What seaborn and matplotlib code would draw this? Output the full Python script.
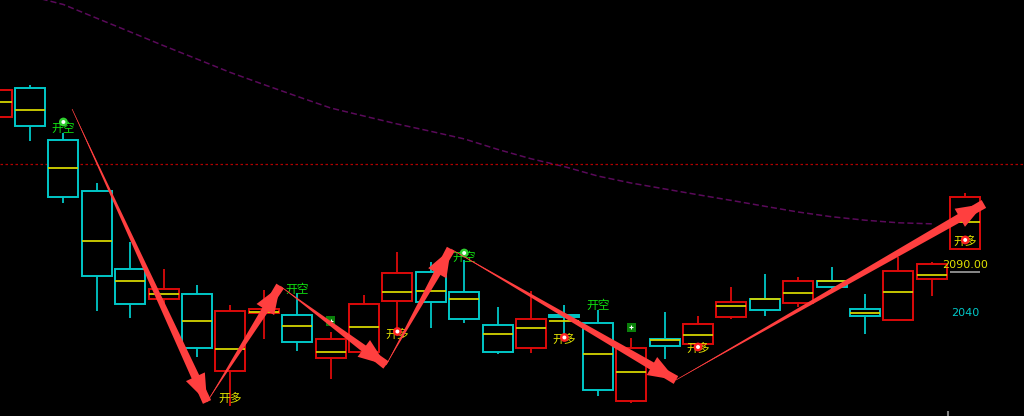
import numpy as np
import pandas as pd
import matplotlib
matplotlib.use("Agg")
import matplotlib.pyplot as plt
import seaborn as sns

# ==========================================
#   DATA
# ==========================================
opens = [2244.5, 2274.4, 2220.2, 2167.1, 2086.1, 2055.2, 2059.8, 1979.6, 2040.0, 2037.9,
         1993.1, 1999.4, 2053.1, 2083.0, 2061.9, 2027.8, 2004.2, 2038.2, 2029.9, 1949.0,
         2012.9, 2008.0, 2036.5, 2054.6, 2051.0, 2074.0, 2044.2, 2032.7, 2075.4, 2107.3]
closes = [2272.6, 2235.1, 2161.5, 2078.5, 2050.0, 2065.0, 2004.2, 2042.4, 2044.2, 2010.1,
          2012.9, 2049.4, 2082.3, 2052.1, 2033.7, 2000.0, 2034.1, 2035.8, 1960.1, 2003.5,
          2005.9, 2028.9, 2051.5, 2043.8, 2074.0, 2067.7, 2037.5, 2084.1, 2091.0, 2160.8]
highs = [2272.6, 2277.8, 2227.8, 2175.4, 2114.6, 2085.8, 2069.5, 2048.6, 2063.8, 2060.8,
         2020.8, 2059.1, 2103.6, 2093.4, 2095.5, 2046.3, 2063.5, 2048.6, 2043.4, 2014.6,
         2041.4, 2037.2, 2067.7, 2081.3, 2078.1, 2087.9, 2059.8, 2098.3, 2093.4, 2165.0]
lows = [2244.5, 2219.8, 2155.2, 2042.7, 2035.4, 2048.6, 1994.8, 1943.4, 2013.0, 2001.0,
        1971.2, 1996.6, 2022.6, 2025.0, 2030.2, 1997.6, 1999.0, 2015.0, 1954.2, 1946.9,
        1992.7, 2006.0, 2034.4, 2037.5, 2046.9, 2060.8, 2018.1, 2032.7, 2058.0, 2107.3]
mids = [2260.1, 2251.5, 2191.0, 2115.6, 2074.0, 2059.8, 2032.0, 2003.1, 2041.0, 2026.8,
        1999.4, 2026.0, 2062.5, 2063.5, 2054.6, 2018.1, 2024.4, 2032.3, 1997.3, 1978.5,
        2012.2, 2017.4, 2047.3, 2054.6, 2061.5, 2073.3, 2040.0, 2062.5, 2079.9, 2134.8]
ma_line = [np.nan, 2370.5, 2361.7, 2347.4, 2333.2, 2318.8, 2304.9, 2290.9, 2278.3, 2266.0,
           2253.9, 2245.5, 2237.2, 2229.6, 2221.7, 2210.8, 2201.0, 2192.8, 2183.0, 2175.7,
           2169.6, 2163.5, 2157.6, 2151.5, 2145.5, 2140.6, 2137.0, 2134.3, 2133.2, np.nan]

# zigzag signal path (bar position, price)
zig_x = [2.26, 6.30, 8.49, 11.66, 13.60, 20.34, 29.56]
zig_y = [2252.8, 1947.6, 2068.4, 1986.1, 2107.0, 1970.5, 2153.9]

# signal labels
sig_x = [2, 7, 9, 12, 14, 17, 18, 21, 29]
sig_y = [2233.0, 1950.7, 2065.3, 2016.4, 2098.6, 2011.7, 2048.1, 2002.8, 2114.3]
sig_text = ["开空", "开多", "开空", "开多", "开空", "开多", "开空", "开多", "开多"]
dot_x = [2, 12, 14, 17, 21, 29]
dot_y = [2239.3, 2021.0, 2102.8, 2014.8, 2004.9, 2116.4]
dot_kind = ["short", "long", "short", "long", "long", "long"]
box_x = [10, 19]
box_y = [2032.0, 2025.4]

ref_level = 2195.5
last_price = 2090.0
axis_label = 2040

# ==========================================
#   STYLE
# ==========================================
sns.set_style("dark", {"axes.facecolor": "black", "figure.facecolor": "black"})
plt.rcParams['font.family'] = ['Noto Sans CJK SC', 'DejaVu Sans']

RED = "#dc0a0a"
CYAN = "#00c8c8"
YELLOW = "#d4d400"
ARROW = "#ff3f3f"

df = pd.DataFrame({"open": opens, "close": closes, "high": highs, "low": lows,
                   "mid": mids, "ma": ma_line})
df["pos"] = np.arange(len(df))
df["up"] = df["close"] >= df["open"]
df["color"] = np.where(df["up"], RED, CYAN)

fig = plt.figure(figsize=(10.24, 4.16), dpi=100)
ax = fig.add_axes([0, 0, 1, 1])
ax.set_facecolor("black")

# moving average (purple dashed)
sns.lineplot(data=df, x="pos", y="ma", ax=ax, color="#5a0a5a", lw=1.1,
             linestyle=(0, (4, 2)), legend=False, zorder=1)

# red dotted reference level
ax.axhline(ref_level, color="#b00000", lw=0.9, linestyle=(0, (2, 2)), zorder=1)

# candles
w = 0.9
ax.vlines(df["pos"], df["low"], df["high"], colors=df["color"], lw=1.3, zorder=2)
body_lo = df[["open", "close"]].min(axis=1)
body_h = (df["open"] - df["close"]).abs()
ax.bar(df["pos"], body_h, bottom=body_lo, width=w, facecolor="black",
       edgecolor=df["color"], linewidth=1.4, zorder=3)
ax.hlines(df["mid"], df["pos"] - w / 2, df["pos"] + w / 2, colors=YELLOW, lw=1.3, zorder=4)

# signal markers
for x, y, k in zip(dot_x, dot_y, dot_kind):
    c = "#30d030" if k == "short" else "#ff2020"
    ax.scatter(x, y, s=40, color=c, edgecolors="none", zorder=6)
    ax.scatter(x, y, s=8, color="white", edgecolors="none", zorder=7)
ax.scatter(box_x, box_y, s=45, marker="s", color="#0a800a", edgecolors="none", zorder=6)
ax.scatter(box_x, box_y, s=12, marker="+", color="white", linewidths=0.8, zorder=7)

for x, y, t in zip(sig_x, sig_y, sig_text):
    col = "#10e010" if t == "开空" else "#e0e000"
    ax.text(x, y, t, color=col, fontsize=8.5, ha="center", va="center", zorder=5)

# zigzag arrows: tapering wedge body + separate head
for i in range(len(zig_x) - 1):
    start = (zig_x[i], zig_y[i])
    end = (zig_x[i + 1], zig_y[i + 1])
    # wedge is wide at xytext and pointed at xy -> wide end at the head
    ax.annotate("", xy=start, xytext=end,
                arrowprops=dict(arrowstyle="wedge,tail_width=0.65,shrink_factor=0.5",
                                fc=ARROW, ec="none", mutation_scale=10,
                                shrinkA=0, shrinkB=0),
                zorder=8)
    ax.annotate("", xy=end, xytext=start,
                arrowprops=dict(arrowstyle="simple,head_length=2.0,head_width=1.5,tail_width=0.05",
                                fc=ARROW, ec="none", mutation_scale=10,
                                shrinkA=0, shrinkB=0),
                zorder=8)

# price labels
ax.text(29, last_price, f"{last_price:.2f}", color="#e0e000", fontsize=8,
        ha="center", va="center", family="DejaVu Sans", zorder=9)
ax.hlines(2083, 28.55, 29.45, colors="#a0a0a0", lw=1.2, zorder=9)
ax.text(29, axis_label, f"{axis_label}", color=CYAN, fontsize=8,
        ha="center", va="center", family="DejaVu Sans", zorder=9)
ax.vlines(28.49, 1933, 1938.2, colors="#808080", lw=1.5, zorder=9)

ax.set_xlim(0.102, 30.76)
ax.set_ylim(1933, 2366.4)
ax.set_xticks([])
ax.set_yticks([])
ax.set_xlabel("")
ax.set_ylabel("")
for s in ax.spines.values():
    s.set_visible(False)

fig.savefig("out.png", dpi=100, facecolor="black")
